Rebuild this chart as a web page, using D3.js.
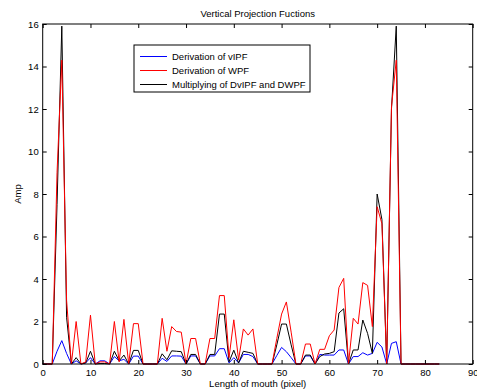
<!DOCTYPE html>
<html>
<head>
<meta charset="utf-8">
<script src="https://cdn.jsdelivr.net/npm/d3@7"></script>
<style>
  body { margin: 0; background: #fff; }
  svg { display: block; font-family: "Liberation Sans", Arial, sans-serif; }
</style>
</head>
<body>
<div id="chart"></div>
<script>
// values, one per pixel position 0..83
const positions = d3.range(0, 84);
const wpfDeriv = [0, 0, 0, 9, 14.3, 3.0, 0, 2.0, 0, 0.1, 2.3, 0, 0.1, 0.1, 0, 2.0, 0.1, 2.1, 0, 1.9,
  1.9, 0, 0, 0, 0, 2.15, 0.6, 1.76, 1.53, 1.5, 0, 1.2, 1.2, 0, 0, 1.2, 1.2, 3.22, 3.22, 0.3,
  2.08, 0.2, 1.65, 1.36, 1.65, 0, 0, 0, 0, 1.2, 2.35, 2.92, 1.5, 0, 0, 0.94, 0.94, 0, 0.69, 0.69,
  1.33, 1.6, 3.6, 4.03, 0, 2.15, 1.88, 3.83, 3.7, 1.76, 7.4, 6.6, 0, 12.1, 14.3, 0, 0, 0, 0, 0,
  0, 0, 0, 0];
const vipfDeriv = [0, 0, 0, 0.6, 1.1, 0.5, 0, 0.15, 0, 0.05, 0.3, 0, 0.15, 0.15, 0, 0.35, 0.15, 0.22, 0, 0.37,
  0.37, 0, 0, 0, 0, 0.27, 0.12, 0.38, 0.38, 0.37, 0, 0.38, 0.38, 0, 0, 0.38, 0.38, 0.72, 0.72, 0.05,
  0.3, 0.05, 0.45, 0.45, 0.35, 0, 0, 0, 0, 0.4, 0.78, 0.58, 0.3, 0, 0, 0.38, 0.38, 0, 0.45, 0.42,
  0.42, 0.42, 0.66, 0.66, 0, 0.35, 0.35, 0.53, 0.42, 0.5, 1.02, 0.8, 0, 0.97, 1.05, 0, 0, 0, 0, 0,
  0, 0, 0, 0];
const product = [0, 0, 0, 7.5, 15.9, 2.2, 0, 0.3, 0, 0.05, 0.6, 0, 0.02, 0.02, 0, 0.6, 0.15, 0.42, 0, 0.64,
  0.64, 0, 0, 0, 0, 0.48, 0.2, 0.62, 0.6, 0.58, 0, 0.45, 0.45, 0, 0, 0.45, 0.45, 2.35, 2.35, 0.1,
  0.65, 0.05, 0.6, 0.55, 0.5, 0, 0, 0, 0, 0.9, 1.88, 1.88, 0.9, 0, 0, 0.42, 0.42, 0, 0.35, 0.47,
  0.5, 0.58, 2.4, 2.6, 0, 0.66, 0.66, 2.07, 1.44, 0.5, 8.0, 6.8, 0, 12.0, 15.9, 0, 0, 0, 0, 0,
  0, 0, 0, 0];

const xTicks = d3.range(0, 91, 10);
const yTicks = d3.range(0, 17, 2);
const legendLabels = ["Derivation of vIPF", "Derivation of WPF", "Multiplying of DvIPF and DWPF"];

const width = 477, height = 392;
const plotLeft = 42.7, plotRight = 472.7, plotTop = 24, plotBottom = 364;
const fontSize = 9.5;

const svg = d3.select("#chart").append("svg")
  .attr("width", width)
  .attr("height", height);

const x = d3.scaleLinear().domain([0, 90]).range([plotLeft, plotRight]);
const y = d3.scaleLinear().domain([0, 16]).range([plotBottom, plotTop]);

/* lines: blue, black, then red on top */
const line = d3.line()
  .x((d, i) => x(positions[i]))
  .y(d => y(d));

const series = [
  { values: vipfDeriv, color: "#0000ff" },
  { values: product, color: "#000000" },
  { values: wpfDeriv, color: "#ff0000" }
];

svg.append("g")
  .selectAll("path")
  .data(series)
  .enter()
  .append("path")
  .attr("d", d => line(d.values))
  .attr("fill", "none")
  .attr("stroke", d => d.color)
  .attr("stroke-width", 1);

/* axes, ticks inward on all four sides */
const tickLen = 4;
svg.append("g")
  .attr("transform", `translate(0,${plotBottom})`)
  .call(d3.axisBottom(x).tickValues(xTicks).tickSizeInner(-tickLen).tickSizeOuter(0).tickPadding(5))
  .call(g => g.select(".domain").remove())
  .call(g => g.selectAll("text").attr("font-size", fontSize).attr("fill", "#000").attr("font-family", "Liberation Sans, Arial, sans-serif"));

svg.append("g")
  .attr("transform", `translate(${plotLeft},0)`)
  .call(d3.axisLeft(y).tickValues(yTicks).tickSizeInner(-tickLen).tickSizeOuter(0).tickPadding(4))
  .call(g => g.select(".domain").remove())
  .call(g => g.selectAll("text").attr("font-size", fontSize).attr("fill", "#000").attr("font-family", "Liberation Sans, Arial, sans-serif"));

svg.append("g")
  .attr("transform", `translate(0,${plotTop})`)
  .call(d3.axisTop(x).tickValues(xTicks).tickSizeInner(-tickLen).tickSizeOuter(0).tickFormat(""))
  .call(g => g.select(".domain").remove());

svg.append("g")
  .attr("transform", `translate(${plotRight},0)`)
  .call(d3.axisRight(y).tickValues(yTicks).tickSizeInner(-tickLen).tickSizeOuter(0).tickFormat(""))
  .call(g => g.select(".domain").remove());

svg.append("rect")
  .attr("x", plotLeft)
  .attr("y", plotTop)
  .attr("width", plotRight - plotLeft)
  .attr("height", plotBottom - plotTop)
  .attr("fill", "none")
  .attr("stroke", "#000")
  .attr("stroke-width", 1);

/* titles */
svg.append("text")
  .attr("x", (plotLeft + plotRight) / 2)
  .attr("y", 17)
  .attr("text-anchor", "middle")
  .attr("font-size", fontSize)
  .text("Vertical Projection Fuctions");

svg.append("text")
  .attr("x", (plotLeft + plotRight) / 2)
  .attr("y", 387)
  .attr("text-anchor", "middle")
  .attr("font-size", fontSize)
  .text("Length of mouth (pixel)");

svg.append("text")
  .attr("transform", `translate(21,${(plotTop + plotBottom) / 2}) rotate(-90)`)
  .attr("text-anchor", "middle")
  .attr("font-size", fontSize)
  .text("Amp");

/* legend */
const legendColors = ["#0000ff", "#ff0000", "#000000"];
const legend = svg.append("g").attr("transform", "translate(134,45)");

legend.append("rect")
  .attr("width", 176)
  .attr("height", 47)
  .attr("fill", "#fff")
  .attr("stroke", "#000")
  .attr("stroke-width", 1);

const item = legend.selectAll(".item")
  .data(legendLabels)
  .enter()
  .append("g")
  .attr("class", "item")
  .attr("transform", (d, i) => `translate(0,${11.5 + i * 14})`);

item.append("line")
  .attr("x1", 6)
  .attr("x2", 33)
  .attr("stroke", (d, i) => legendColors[i])
  .attr("stroke-width", 1);

item.append("text")
  .attr("x", 38)
  .attr("y", 3.5)
  .attr("font-size", fontSize)
  .text(d => d);
</script>
</body>
</html>
